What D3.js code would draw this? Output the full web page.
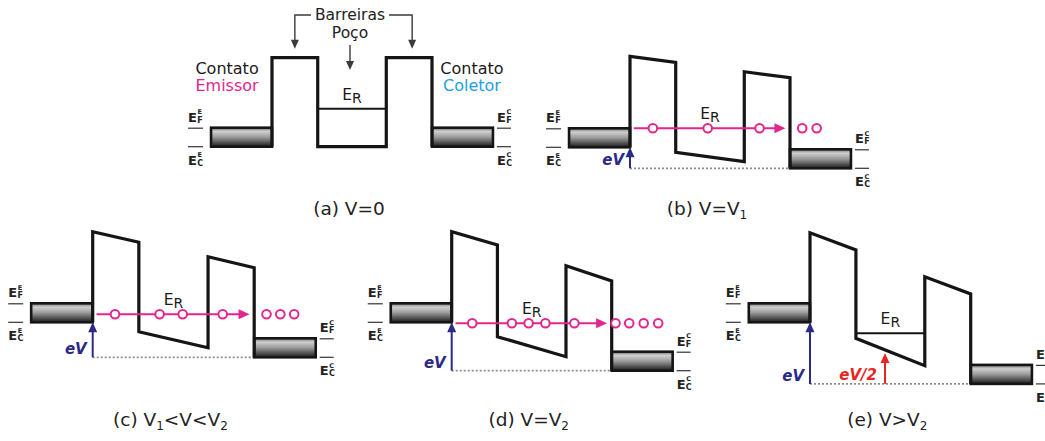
<!DOCTYPE html>
<html>
<head>
<meta charset="utf-8">
<script src="https://cdn.jsdelivr.net/npm/d3@7"></script>
<style>
  body { margin: 0; background: #fff; }
  svg { display: block; }
  text { font-family: "DejaVu Sans", sans-serif; }
</style>
</head>
<body>
<svg id="chart" width="1045" height="441"></svg>
<script>
// ---- Band-profile data (position in nm, energy in meV, relative to emitter E_C) ----
const panelIds = ["a", "b", "c", "d", "e"];
const barrierEdges = [0, 3, 7.5, 10.5];          // barrier1 left/right, barrier2 left/right
const contactSpan = [-4, 14.5];                  // emitter start, collector end
const fermiOffset = 95;                          // E_F - E_C inside each contact
const barrier1Top = [[445, 445], [455, 425], [453, 400], [453, 387], [448, 362]];
const wellBottom = [[0, 0], [-25, -72], [-47, -127], [-72, -172], [-80, -217]];
const barrier2Top = [[445, 445], [378, 348], [328, 273], [283, 207], [228, 142]];
const collectorEc = [0, -105, -175, -242, -308];
const resonanceLevel = [190, 95, 40, -5, -55];
const tunnelling = [false, true, true, true, false];
const electronsInWell = [[], [1.5, 5.1, 8.5], [1.45, 4.35, 5.85, 8.45], [1.35, 3.95, 5.05, 6.15, 8.05], []];
const electronsCollected = [[], [11.3, 12.25], [11.3, 12.2, 13.1], [10.75, 11.65, 12.6, 13.55], []];
const streamSpan = [0.25, 10.2];
const halfBiasPosition = [null, null, null, null, 4.9];
const captions = [
  [["(a) V=0", false]],
  [["(b) V=V", false], ["1", true]],
  [["(c) V", false], ["1", true], ["<V<V", false], ["2", true]],
  [["(d) V=V", false], ["2", true]],
  [["(e) V>V", false], ["2", true]]
];

// ---- Layout of each panel on the page ----
const frames = {
  a: { x0: 272,  width: 160,   y0: 146.7, captionY: 219 },
  b: { x0: 630,  width: 160,   y0: 147.3, captionY: 219 },
  c: { x0: 92.7, width: 161.5, y0: 322.3, captionY: 430 },
  d: { x0: 451.7, width: 160,  y0: 322.3, captionY: 430 },
  e: { x0: 810,  width: 160.7, y0: 322.3, captionY: 430 }
};
const pxPerMeV = 0.2;

const colors = {
  band: "#151515",
  stream: "#e2268c",
  emitter: "#e2268c",
  collector: "#1ba1e2",
  bias: "#2b2a86",
  halfBias: "#e8251f",
  dotted: "#8a8a8a",
  pointer: "#3a3a3a"
};

const svg = d3.select("#chart");
const defs = svg.append("defs");
const grad = defs.append("linearGradient")
  .attr("id", "contactFill").attr("x1", 0).attr("y1", 0).attr("x2", 0).attr("y2", 1);
[[0, "#707070"], [0.2, "#cfcfcf"], [0.5, "#9a9a9a"], [1, "#1a1a1a"]]
  .forEach(([o, c]) => grad.append("stop").attr("offset", o).attr("stop-color", c));

function arrowHead(g, tx, ty, dir, len, half, color) {
  // dir: "up" or "right"
  let pts;
  if (dir === "up") pts = [[tx, ty], [tx - half, ty + len], [tx + half, ty + len]];
  else if (dir === "down") pts = [[tx, ty], [tx - half, ty - len], [tx + half, ty - len]];
  else pts = [[tx, ty], [tx - len, ty - half], [tx - len, ty + half]];
  g.append("path").attr("d", d3.line()(pts) + "Z").attr("fill", color);
}

function levelLabel(g, xLeft, baseline, sup, sub) {
  g.append("text").attr("x", xLeft).attr("y", baseline)
    .attr("font-size", 13).attr("font-weight", "bold").attr("fill", "#222").text("E");
  g.append("text").attr("x", xLeft + 9.5).attr("y", baseline - 7.5)
    .attr("font-size", 6.5).attr("font-weight", "bold").attr("fill", "#222").text(sup);
  g.append("text").attr("x", xLeft + 9.2).attr("y", baseline + 1)
    .attr("font-size", 8).attr("font-weight", "bold").attr("fill", "#222").text(sub);
}

panelIds.forEach((id, i) => {
  const f = frames[id];
  const x = d3.scaleLinear().domain([barrierEdges[0], barrierEdges[3]]).range([f.x0, f.x0 + f.width]);
  const y = d3.scaleLinear().domain([0, 100]).range([f.y0, f.y0 - 100 * pxPerMeV]);
  const g = svg.append("g").attr("class", "panel-" + id);
  const ecC = collectorEc[i];
  const biased = ecC !== 0;

  // dotted reference at the collector conduction-band edge
  if (biased) {
    g.append("line")
      .attr("x1", x(barrierEdges[0])).attr("x2", x(barrierEdges[3]))
      .attr("y1", y(ecC)).attr("y2", y(ecC))
      .attr("stroke", colors.dotted).attr("stroke-width", 1.8).attr("stroke-dasharray", "2,2");
  }

  // contacts (filled between E_C and E_F)
  const contacts = [
    { x1: contactSpan[0], x2: barrierEdges[0], ec: 0 },
    { x1: barrierEdges[3], x2: contactSpan[1], ec: ecC }
  ];
  g.selectAll("rect.contact").data(contacts).join("rect")
    .attr("class", "contact")
    .attr("x", d => x(d.x1)).attr("width", d => x(d.x2) - x(d.x1))
    .attr("y", d => y(d.ec + fermiOffset)).attr("height", d => y(d.ec) - y(d.ec + fermiOffset))
    .attr("fill", "url(#contactFill)").attr("stroke", colors.band).attr("stroke-width", 2.6);

  // conduction-band profile through the double barrier
  const profile = [
    [barrierEdges[0], 0],
    [barrierEdges[0], barrier1Top[i][0]],
    [barrierEdges[1], barrier1Top[i][1]],
    [barrierEdges[1], wellBottom[i][0]],
    [barrierEdges[2], wellBottom[i][1]],
    [barrierEdges[2], barrier2Top[i][0]],
    [barrierEdges[3], barrier2Top[i][1]],
    [barrierEdges[3], ecC]
  ];
  g.append("path")
    .attr("d", d3.line().x(d => x(d[0])).y(d => y(d[1]))(profile))
    .attr("fill", "none").attr("stroke", colors.band).attr("stroke-width", 3.2)
    .attr("stroke-linejoin", "miter");

  // resonant level
  const level = resonanceLevel[i];
  if (!tunnelling[i]) {
    g.append("line")
      .attr("x1", x(barrierEdges[1])).attr("x2", x(barrierEdges[2]))
      .attr("y1", y(level)).attr("y2", y(level))
      .attr("stroke", colors.band).attr("stroke-width", 2);
  } else {
    const tip = x(streamSpan[1]);
    g.append("line")
      .attr("x1", x(streamSpan[0])).attr("x2", tip - 8)
      .attr("y1", y(level)).attr("y2", y(level))
      .attr("stroke", colors.stream).attr("stroke-width", 2);
    arrowHead(g, tip, y(level), "right", 11, 5, colors.stream);
    g.selectAll("circle.electron")
      .data(electronsInWell[i].concat(electronsCollected[i])).join("circle")
      .attr("class", "electron")
      .attr("cx", d => x(d)).attr("cy", y(level)).attr("r", 4.3)
      .attr("fill", "#fff").attr("stroke", colors.stream).attr("stroke-width", 2);
  }
  const er = g.append("text")
    .attr("x", x((barrierEdges[1] + barrierEdges[2]) / 2)).attr("y", y(level) - 9)
    .attr("text-anchor", "middle").attr("font-size", 15.5).attr("fill", "#1a1a1a");
  er.append("tspan").text("E");
  er.append("tspan").attr("dy", 3).attr("font-size", 14).text("R");

  // bias arrows
  if (biased) {
    g.append("line")
      .attr("x1", x(0)).attr("x2", x(0)).attr("y1", y(ecC)).attr("y2", y(0) + 8)
      .attr("stroke", colors.bias).attr("stroke-width", 2);
    arrowHead(g, x(0), y(0), "up", 10, 4.5, colors.bias);
    g.append("text")
      .attr("x", x(0) - 6).attr("y", y(ecC) - 3).attr("text-anchor", "end")
      .attr("font-size", 15).attr("font-weight", "bold").attr("font-style", "italic")
      .attr("fill", colors.bias).text("eV");
  }
  if (halfBiasPosition[i] !== null) {
    const hx = x(halfBiasPosition[i]);
    const top = ecC - ecC / 2;  // half of the applied bias above the collector edge
    g.append("line")
      .attr("x1", hx).attr("x2", hx).attr("y1", y(ecC)).attr("y2", y(top) + 8)
      .attr("stroke", colors.halfBias).attr("stroke-width", 2);
    arrowHead(g, hx, y(top), "up", 10, 4.5, colors.halfBias);
    g.append("text")
      .attr("x", hx - 8).attr("y", y(ecC) - 4).attr("text-anchor", "end")
      .attr("font-size", 15).attr("font-weight", "bold").attr("font-style", "italic")
      .attr("fill", colors.halfBias).text("eV/2");
  }

  // E_F / E_C labels beside each contact
  const leftEdge = x(contactSpan[0]);
  const rightEdge = x(contactSpan[1]);
  [[leftEdge - 23, leftEdge - 8, 0, "E"], [rightEdge + 4, rightEdge + 18, ecC, "C"]]
    .forEach(([a, b, ec, tag]) => {
      g.append("line").attr("x1", a).attr("x2", b)
        .attr("y1", y(ec + fermiOffset) + 0.5).attr("y2", y(ec + fermiOffset) + 0.5)
        .attr("stroke", "#333").attr("stroke-width", 1.2);
      g.append("line").attr("x1", a).attr("x2", b)
        .attr("y1", y(ec)).attr("y2", y(ec))
        .attr("stroke", "#333").attr("stroke-width", 1.2);
      levelLabel(g, a, y(ec + fermiOffset) - 6, tag, "F");
      levelLabel(g, a, y(ec) + 18, tag, "C");
    });

  // caption
  const cap = g.append("text")
    .attr("x", x((barrierEdges[1] + barrierEdges[2]) / 2) - 3).attr("y", f.captionY)
    .attr("text-anchor", "middle").attr("font-size", 18.5).attr("fill", "#222");
  captions[i].forEach(([t, sub]) => {
    if (sub) cap.append("tspan").attr("dy", 4).attr("font-size", 12).text(t);
    else cap.append("tspan").attr("dy", cap.selectAll("tspan").size() ? -4 : 0).text(t);
  });

  // annotations of the unbiased structure
  if (id === "a") {
    const midX = x((barrierEdges[1] + barrierEdges[2]) / 2) - 2;
    const bar = g.append("text").attr("x", midX).attr("y", 20).attr("text-anchor", "middle")
      .attr("font-size", 15.5).attr("fill", "#222").text("Barreiras");
    const tw = bar.node().getComputedTextLength();
    g.append("text").attr("x", midX).attr("y", 38).attr("text-anchor", "middle")
      .attr("font-size", 15.5).attr("fill", "#222").text("Poço");
    const b1x = x((barrierEdges[0] + barrierEdges[1]) / 2);
    const b2x = x((barrierEdges[2] + barrierEdges[3]) / 2) + 3;
    const arrowTip = y(barrier1Top[i][0]) - 9;
    [[midX - tw / 2 - 4, b1x], [midX + tw / 2 + 4, b2x]].forEach(([sx, ex]) => {
      g.append("path").attr("d", d3.line()([[sx, 15], [ex, 15], [ex, arrowTip - 8]]))
        .attr("fill", "none").attr("stroke", colors.pointer).attr("stroke-width", 1.4);
      arrowHead(g, ex, arrowTip, "down", 9, 4, colors.pointer);
    });
    g.append("line").attr("x1", midX).attr("x2", midX).attr("y1", 45).attr("y2", 62)
      .attr("stroke", colors.pointer).attr("stroke-width", 1.4);
    arrowHead(g, midX, 70, "down", 9, 4, colors.pointer);

    g.append("text").attr("x", leftEdge + 16).attr("y", 74).attr("text-anchor", "middle")
      .attr("font-size", 16).attr("fill", "#1a1a1a").text("Contato");
    g.append("text").attr("x", leftEdge + 16).attr("y", 91).attr("text-anchor", "middle")
      .attr("font-size", 16).attr("fill", colors.emitter).text("Emissor");
    g.append("text").attr("x", rightEdge - 21).attr("y", 74).attr("text-anchor", "middle")
      .attr("font-size", 16).attr("fill", "#1a1a1a").text("Contato");
    g.append("text").attr("x", rightEdge - 21).attr("y", 91).attr("text-anchor", "middle")
      .attr("font-size", 16).attr("fill", colors.collector).text("Coletor");
  }
});
</script>
</body>
</html>
